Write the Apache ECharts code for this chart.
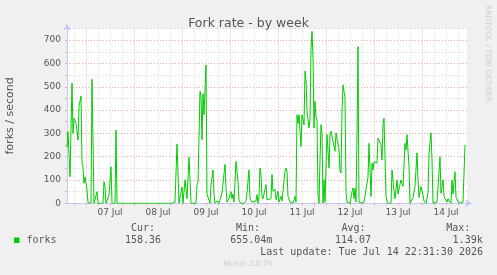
<!DOCTYPE html>
<html>
<head>
<meta charset="utf-8">
<script src="https://cdn.jsdelivr.net/npm/echarts@6/dist/echarts.min.js"></script>
<style>
  html,body{margin:0;padding:0;background:#f0f0f0;}
  #chart{width:497px;height:275px;}
</style>
</head>
<body>
<div id="chart"></div>
<script>
// hours since 06 Jul 00:00, one sample per reading
const hours = [
  14.5,15,16,17,17.5,18,19,19.5,20,20.5,21.5,22,22.5,23,23.5,24.5,25,26,26.5,27,28,29,29.5,30,
  32.5,33,33.5,34,35,35.5,36.5,37,38.5,39,39.5,67,67.5,68.5,69.5,70.5,71.5,72,72.5,73.5,74.5,
  75.5,76.5,79,79.5,80,81,81.5,82,82.5,83,84,84.5,85,86,86.5,87.5,88,88.5,89.5,90.5,91.5,92,
  93.5,94,94.5,95.5,96.5,97,97.5,98,99,100,100.5,101.5,103,104,104.5,105.5,106,107,108,109,
  109.5,110,110.5,111,111.5,112,112.5,113,114,114.5,115.5,116.5,117,117.5,118.5,119,120,120.5,
  121.5,122,123.5,124,124.5,125,126,127.5,128.5,129,129.5,130,130.5,131.5,132,132.5,133,133.5,
  134,134.5,135,135.5,136,136.5,137,137.5,138,138.5,139,139.5,140,140.5,141,141.5,142,142.5,
  143,143.5,144,144.5,145.5,146,146.5,147.5,148,148.5,149,150,150.5,151,151.5,152,152.5,153.5,
  154,154.5,156,157,157.5,158,158.5,159,159.5,160,160.5,161,163,164,165,165.5,166.5,167,167.5,
  168,168.5,169.5,170,170.5,171.5,172,172.5,173,174,174.5,175,176.5,177,178,178.5,179.5,180,
  180.5,181.5,182,182.5,183.5,184,184.5,185.5,186,187,187.5,188.5,189.5,190,190.5,191.5,192.5,
  193,194,195,195.5,196.5,197,197.5,198.5,199.5,200.5,201,201.5,202.5,203,203.5,204.5,205,
  205.5,206.5,207,207.5,208.5,209,209.5,210.5,211.5,212.5,213,213.5
];
const forks = [
  240,308,114,515,300,365,343,350,272,415,461,172,157,86,114,57,3,0,0,532,0,0,50,0,
  0,93,72,0,0,35,157,0,0,314,0,0,8,5,255,0,0,70,0,101,20,
  198,0,0,80,90,481,462,273,470,380,593,40,35,0,80,143,40,0,10,0,0,44,
  167,66,5,20,50,20,40,5,180,94,10,0,0,10,44,144,20,5,0,10,
  37,0,30,152,120,30,20,40,80,15,10,20,123,51,60,15,51,5,
  30,10,137,151,137,30,5,0,30,5,380,343,380,244,380,360,337,567,
  530,395,401,323,358,660,738,624,323,438,370,358,40,0,185,337,300,0,
  101,5,0,295,152,295,309,266,259,223,302,302,230,140,130,395,508,452,
  51,5,0,50,66,20,64,5,290,672,10,0,5,0,114,257,29,172,143,
  179,172,172,279,279,251,186,337,365,29,10,0,0,143,50,20,100,40,
  40,100,86,72,257,229,295,157,0,0,25,72,217,100,25,72,35,
  10,0,43,215,302,186,0,0,5,5,200,43,100,29,20,5,20,
  10,0,100,40,136,25,20,0,0,5,0,251
];
const tickHours = [18,24,30,36,42,48,54,60,66,72,78,84,90,96,102,108,114,120,126,132,138,144,150,156,162,168,174,180,186,192,198,204,210];
const dayHours = [36,60,84,108,132,156,180,204];
const dayLabels = ['07 Jul','08 Jul','09 Jul','10 Jul','11 Jul','12 Jul','13 Jul','14 Jul'];
const statNames = ['Cur:','Min:','Avg:','Max:'];
const statValues = ['158.36','655.04m','114.07','1.39k'];

const sans = 'DejaVu Sans';
const mono = 'DejaVu Sans Mono';
const txt = '#555555';
const minorCol = '#d4d4d4';
const majorCol = '#e6a8a8';
const axisCol = '#c8c8f4';

const statX = [[143,161],[248,272.3],[353.5,371],[458.3,482.7]];
const graphics = [
  {type:'rect',shape:{x:14,y:237.5,width:5.5,height:5.5},style:{fill:'#00cc00'}},
  {type:'text',x:26.5,y:240.5,style:{text:'forks',font:'10px '+mono,fill:txt,textAlign:'left',textVerticalAlign:'middle'}},
  {type:'text',x:483,y:252,style:{text:'Last update: Tue Jul 14 22:31:30 2026',font:'10px '+mono,fill:txt,textAlign:'right',textVerticalAlign:'middle'}},
  {type:'text',x:248,y:264,style:{text:'Munin 2.0.76',font:'7.5px '+sans,fill:'#cccccc',textAlign:'center',textVerticalAlign:'middle'}},
  {type:'text',x:487.5,y:5,rotation:-Math.PI/2,style:{text:'RRDTOOL / TOBI OETIKER',font:'7.5px '+sans,fill:'#cccccc',textAlign:'left',textVerticalAlign:'middle'}}
];
statNames.forEach((n,i)=>{
  graphics.push({type:'text',x:statX[i][0],y:228,style:{text:n,font:'10px '+mono,fill:txt,textAlign:'center',textVerticalAlign:'middle'}});
  graphics.push({type:'text',x:statX[i][1],y:240.5,style:{text:statValues[i],font:'10px '+mono,fill:txt,textAlign:'right',textVerticalAlign:'middle'}});
});

const chart = echarts.init(document.getElementById('chart'));
chart.setOption({
  animation:false,
  backgroundColor:'#f0f0f0',
  title:{text:'Fork rate - by week',left:'center',top:12,
    textStyle:{fontFamily:sans,fontSize:12.5,fontWeight:'normal',color:txt}},
  grid:{left:67,right:30,top:28.5,bottom:71.7,show:true,backgroundColor:'#ffffff',borderWidth:0,outerBoundsMode:'none'},
  xAxis:{
    type:'value',min:14.5,max:214.5,
    axisLine:{show:true,lineStyle:{color:axisCol,width:1},symbol:['none','arrow'],symbolSize:[6,7],symbolOffset:[0,5]},
    axisTick:{show:true,length:2,customValues:tickHours,lineStyle:{color:majorCol}},
    splitLine:{show:true,lineStyle:{color:[minorCol,majorCol,minorCol,minorCol],type:[1,2],width:1}},
    axisLabel:{customValues:dayHours,margin:5,fontFamily:sans,fontSize:9,color:txt,
      formatter:v=>dayLabels[dayHours.indexOf(v)]||''}
  },
  yAxis:{
    type:'value',min:0,max:750,interval:50,
    name:'forks / second',nameLocation:'middle',nameGap:51,
    nameTextStyle:{fontFamily:sans,fontSize:11,color:txt},
    axisLine:{show:true,lineStyle:{color:axisCol,width:1},symbol:['none','arrow'],symbolSize:[6,7],symbolOffset:[0,5]},
    axisTick:{show:true,length:2,lineStyle:{color:majorCol}},
    splitLine:{show:true,lineStyle:{color:[majorCol,minorCol],type:[1,2],width:1}},
    axisLabel:{margin:6,fontFamily:sans,fontSize:9,color:txt,
      formatter:v=>v%100===0?String(v):''}
  },
  graphic:graphics,
  series:[{
    type:'line',
    data:hours.map((h,i)=>[h,forks[i]]),
    showSymbol:false,
    lineStyle:{color:'#00cc00',width:1},
    itemStyle:{color:'#00cc00'},
    silent:true
  }]
});
</script>
</body>
</html>
